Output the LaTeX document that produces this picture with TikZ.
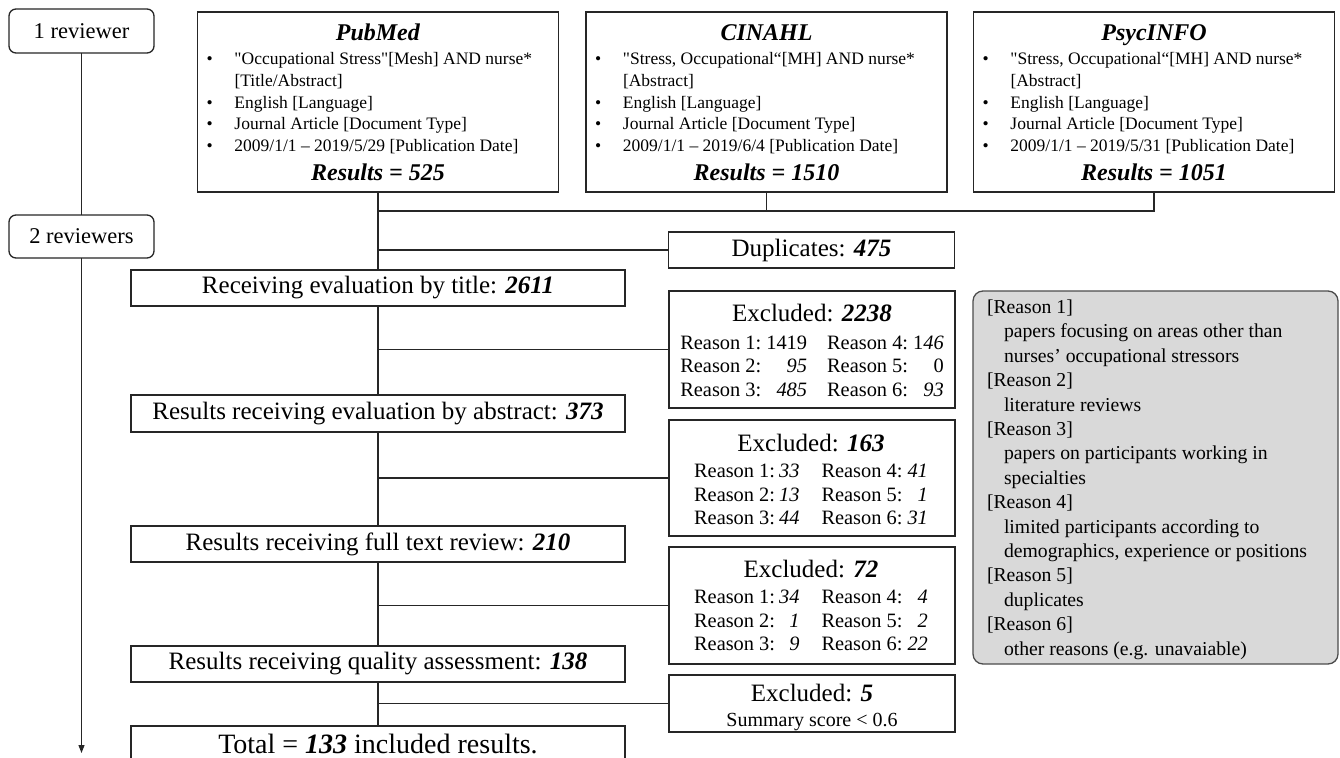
\documentclass[tikz,border=0pt]{standalone}
\usepackage{fontspec}
\setmainfont{Liberation Serif}[Ligatures=TeXOff]
\usetikzlibrary{arrows.meta}
\definecolor{linec}{HTML}{262626}
\definecolor{greyfill}{HTML}{D9D9D9}
\newcommand\bi[1]{\textbf{\textit{#1}}}
\newcommand\bl[1]{\makebox[361pt][l]{\makebox[37pt][l]{\hspace{9pt}\textbullet}#1}}
\newcommand\cl[1]{\makebox[361pt][l]{\hspace{37pt}#1}}
\newcommand\dbtitle[1]{\makebox[361pt][c]{\fontsize{24}{24}\selectfont\bi{#1}}}
\newcommand\rsn[1]{{[Reason #1]}}
\begin{document}
\begin{tikzpicture}[x=1pt,y=-1pt,
  box/.style={draw=linec, line width=1.3pt, fill=white, inner sep=0pt, outer sep=0pt},
  revbox/.style={box, rounded corners=7pt, minimum width=145pt, minimum height=44pt, font=\fontsize{22.5}{26}\selectfont},
  dbbox/.style={box, minimum width=361pt, minimum height=180pt},
  stepbox/.style={box, minimum width=494pt, minimum height=36pt, font=\fontsize{25}{30}\selectfont},
  exbox/.style={box, minimum width=286pt},
  txt/.style={inner sep=0pt, outer sep=0pt},
  conn/.style={draw=linec, line width=1.3pt}
]
\useasboundingbox (0,0) rectangle (1340,757);

% reviewer boxes and timeline
\node[revbox] (r1) at (81.5,31) {1 reviewer};
\node[revbox, minimum height=43pt] (r2) at (81.5,236.5) {2 reviewers};
\coordinate (aend) at (81.5,753);
\draw[conn] (r1.south) -- (r2.north);
\draw[conn, -{Triangle[width=6pt,length=8pt]}] (r2.south) -- (aend);

% database boxes
\node[dbbox] (pubmed) at (378,102) {};
\node[dbbox] (cinahl) at (766.5,102) {};
\node[dbbox] (psyc) at (1154,102) {};

\node[txt, anchor=base west, font=\fontsize{17.5}{21.6}\selectfont] (pubmedt) at (197.5,41) {%
\begin{tabular}[t]{@{}l@{}}
\dbtitle{PubMed}\\[2.4pt]
\bl{"Occupational Stress"[Mesh] AND nurse*}\\
\cl{[Title/Abstract]}\\
\bl{English [Language]}\\
\bl{Journal Article [Document Type]}\\
\bl{2009/1/1 – 2019/5/29 [Publication Date]}\\[6.4pt]
\dbtitle{Results = 525}
\end{tabular}};

\node[txt, anchor=base west, font=\fontsize{17.5}{21.6}\selectfont] (cinahlt) at (586,41) {%
\begin{tabular}[t]{@{}l@{}}
\dbtitle{CINAHL}\\[2.4pt]
\bl{"Stress, Occupational“[MH] AND nurse*}\\
\cl{[Abstract]}\\
\bl{English [Language]}\\
\bl{Journal Article [Document Type]}\\
\bl{2009/1/1 – 2019/6/4 [Publication Date]}\\[6.4pt]
\dbtitle{Results = 1510}
\end{tabular}};

\node[txt, anchor=base west, font=\fontsize{17.5}{21.6}\selectfont] (psyct) at (973.5,41) {%
\begin{tabular}[t]{@{}l@{}}
\dbtitle{PsycINFO}\\[2.4pt]
\bl{"Stress, Occupational“[MH] AND nurse*}\\
\cl{[Abstract]}\\
\bl{English [Language]}\\
\bl{Journal Article [Document Type]}\\
\bl{2009/1/1 – 2019/5/31 [Publication Date]}\\[6.4pt]
\dbtitle{Results = 1051}
\end{tabular}};

% main flow boxes
\node[stepbox] (title) at (378,288) {Receiving evaluation by title: \bi{2611}};
\node[stepbox, minimum height=37pt] (abs) at (378,413.5) {Results receiving evaluation by abstract: \bi{373}};
\node[stepbox] (full) at (378,544) {Results receiving full text review: \bi{210}};
\node[stepbox] (qual) at (378,664) {Results receiving quality assessment: \bi{138}};
\node[stepbox, minimum height=36pt] (total) at (378,744) {};
\node[txt, anchor=base, font=\fontsize{28}{32}\selectfont] (totalt) at (378,753) {Total = \bi{133} included results.};

% side boxes
\node[exbox, minimum height=36pt, font=\fontsize{25}{30}\selectfont] (dup) at (811.5,250) {Duplicates: \bi{475}};
\node[exbox, minimum height=117pt] (ex1) at (812,349.5) {};
\node[exbox, minimum height=116pt] (ex2) at (812,478) {};
\node[exbox, minimum height=117pt] (ex3) at (812,605.5) {};
\node[exbox, minimum height=57pt] (ex4) at (812,703.5) {};

\node[txt, anchor=base, font=\fontsize{20.4}{23.5}\selectfont] (ex1t) at (812,321) {%
\begin{tabular}[t]{@{}l@{\hspace{5pt}}r@{\hspace{20pt}}l@{\hspace{5pt}}r@{}}
\multicolumn{4}{c}{\fontsize{25}{30}\selectfont Excluded: \bi{2238}}\\[4.5pt]
Reason 1: & 1419 & Reason 4: & 1\textit{46}\\
Reason 2: & \textit{95} & Reason 5: & 0\\
Reason 3: & \textit{485} & Reason 6: & \textit{93}
\end{tabular}};

\node[txt, anchor=base, font=\fontsize{20.4}{23.5}\selectfont] (ex2t) at (811,451) {%
\begin{tabular}[t]{@{}l@{\hspace{4pt}}r@{\hspace{22pt}}l@{\hspace{5pt}}r@{}}
\multicolumn{4}{c}{\fontsize{25}{30}\selectfont Excluded: \bi{163}}\\[3pt]
Reason 1: & \textit{33} & Reason 4: & \textit{41}\\
Reason 2: & \textit{13} & Reason 5: & \textit{1}\\
Reason 3: & \textit{44} & Reason 6: & \textit{31}
\end{tabular}};

\node[txt, anchor=base, font=\fontsize{20.4}{23.5}\selectfont] (ex3t) at (811,577) {%
\begin{tabular}[t]{@{}l@{\hspace{4pt}}r@{\hspace{22pt}}l@{\hspace{5pt}}r@{}}
\multicolumn{4}{c}{\fontsize{25}{30}\selectfont Excluded: \bi{72}}\\[3pt]
Reason 1: & \textit{34} & Reason 4: & \textit{4}\\
Reason 2: & \textit{1} & Reason 5: & \textit{2}\\
Reason 3: & \textit{9} & Reason 6: & \textit{22}
\end{tabular}};

\node[txt, anchor=base, font=\fontsize{20}{25}\selectfont] (ex4t) at (812,701) {%
\begin{tabular}[t]{@{}c@{}}
{\fontsize{25}{30}\selectfont Excluded: \bi{5}}\\
Summary score < 0.6
\end{tabular}};

% legend box
\node[box, fill=greyfill, draw=black!70, rounded corners=10pt, minimum width=365pt, minimum height=373pt] (legend) at (1155.5,477.5) {};
\node[txt, anchor=base west, font=\fontsize{19.7}{24.4}\selectfont] (legendt) at (987,313.5) {%
\begin{tabular}[t]{@{}l@{}}
\rsn{1}\\
\hspace*{17pt}papers focusing on areas other than\\
\hspace*{17pt}nurses’ occupational stressors\\
\rsn{2}\\
\hspace*{17pt}literature reviews\\
\rsn{3}\\
\hspace*{17pt}papers on participants working in\\
\hspace*{17pt}specialties\\
\rsn{4}\\
\hspace*{17pt}limited participants according to\\
\hspace*{17pt}demographics, experience or positions\\
\rsn{5}\\
\hspace*{17pt}duplicates\\
\rsn{6}\\
\hspace*{17pt}other reasons (e.g. unavaiable)
\end{tabular}};

% connectors
\coordinate (m) at (378,211);
\draw[conn] (pubmed.south) -- (title.north);
\draw[conn] (cinahl.south) -- (cinahl.south |- m);
\draw[conn] (psyc.south) -- (psyc.south |- m) -- (m);
\draw[conn] (dup.west) -- (dup.west -| pubmed.south);
\draw[conn] (title.south) -- (abs.north);
\draw[conn] (ex1.west) -- (ex1.west -| title.south);
\draw[conn] (abs.south) -- (full.north);
\draw[conn] (ex2.west) -- (ex2.west -| abs.south);
\draw[conn] (full.south) -- (qual.north);
\draw[conn] (ex3.west) -- (ex3.west -| full.south);
\draw[conn] (qual.south) -- (total.north);
\draw[conn] (ex4.west) -- (ex4.west -| qual.south);
\end{tikzpicture}
\end{document}
